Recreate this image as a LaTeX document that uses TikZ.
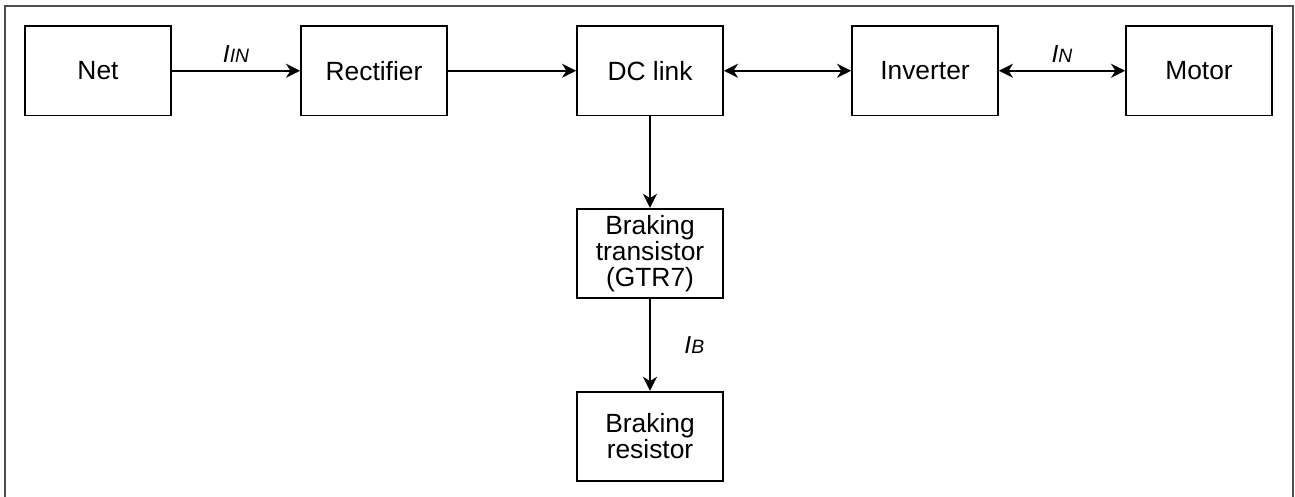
\documentclass[tikz,border=0pt]{standalone}
\usepackage{fontspec}
\setmainfont{Liberation Sans}
\usepackage{xcolor}
\definecolor{framegray}{RGB}{77,77,77}
\usepackage{tikz}
\usetikzlibrary{arrows.meta}

\begin{document}
\begin{tikzpicture}[
  blockbox/.style={draw=black, line width=1.05pt, minimum width=2.92cm, minimum height=1.79cm,
    inner sep=0pt, align=center, font=\fontsize{15}{14.8}\selectfont},
  flow/.style={line width=1.05pt, -{Stealth[length=8pt, width=8pt, inset=2.5pt]}},
  dualflow/.style={line width=1.05pt, {Stealth[length=8pt, width=8pt, inset=2.5pt]}-{Stealth[length=8pt, width=8pt, inset=2.5pt]}},
  currlbl/.style={font=\fontsize{14}{16}\selectfont\itshape, inner sep=2pt}
]
  \useasboundingbox (0,0) rectangle (25.9,9.94);

  % Outer frame (open at the bottom)
  \draw[framegray, line width=1.2pt] (0.1,0) -- (0.1,9.82) -- (25.86,9.82) -- (25.86,0);

  % --- Top row ---
  \node[blockbox] (net)  at (1.96,8.525)  {Net};
  \node[blockbox] (rect) at (7.48,8.525)  {Rectifier};
  \node[blockbox] (dcl)  at (13.0,8.525)  {DC link};
  \node[blockbox] (inv)  at (18.5,8.525)  {Inverter};
  \node[blockbox] (mot)  at (23.98,8.525) {Motor};

  % --- Braking branch ---
  \node[blockbox] (btr) at (13.0,4.87) {Braking\\transistor\\(GTR7)};
  \node[blockbox] (bres) at (13.0,1.21) {Braking\\resistor};

  % Connectors
  \draw[flow] (net) -- node[currlbl, above=2pt] {I{\fontsize{11}{13}\selectfont IN}} (rect);
  \draw[flow] (rect) -- (dcl);
  \draw[dualflow] (dcl) -- (inv);
  \draw[dualflow] (inv) -- node[currlbl, above=2pt] {I{\fontsize{11}{13}\selectfont N}} (mot);
  \draw[flow] (dcl) -- (btr);
  \draw[flow] (btr) -- node[currlbl, right=0.6cm] {I{\fontsize{11}{13}\selectfont B}} (bres);
\end{tikzpicture}
\end{document}
